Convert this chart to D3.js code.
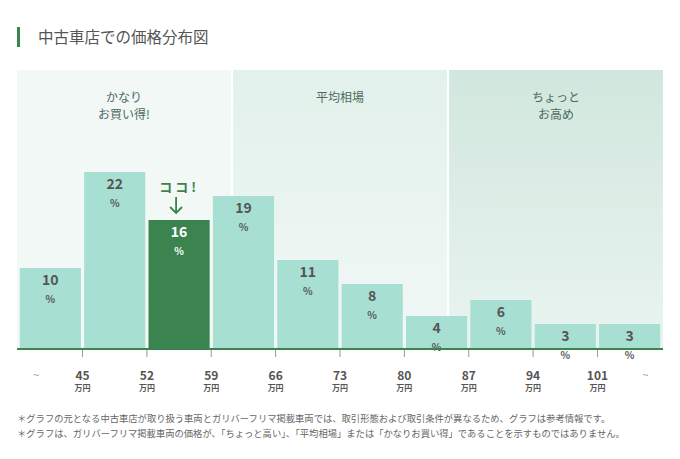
<!DOCTYPE html>
<html>
<head>
<meta charset="utf-8">
<script src="https://cdn.jsdelivr.net/npm/d3@7"></script>
<style>
  body { margin: 0; background: #fff; }
  svg { display: block; font-family: "Noto Sans CJK JP", "Noto Sans", sans-serif; }
</style>
</head>
<body>
<div id="chart"></div>
<script>
// Price distribution data
const bins = ["~45", "45-52", "52-59", "59-66", "66-73", "73-80", "80-87", "87-94", "94-101", "101~"];
const shares = [10, 22, 16, 19, 11, 8, 4, 6, 3, 3];
const highlightIndex = 2;
const tickLabels = ["45", "52", "59", "66", "73", "80", "87", "94", "101"];
const bandTitles = [["かなり", "お買い得!"], ["平均相場"], ["ちょっと", "お高め"]];
const notes = [
    "＊グラフの元となる中古車店が取り扱う車両とガリバーフリマ掲載車両では、取引形態および取引条件が異なるため、グラフは参考情報です。",
    "＊グラフは、ガリバーフリマ掲載車両の価格が、「ちょっと高い」、「平均相場」または「かなりお買い得」であることを示すものではありません。"
];

const width = 680, height = 459;
const plot = { left: 17, right: 663, top: 70, bottom: 348 };

const svg = d3.select("#chart").append("svg")
    .attr("width", width)
    .attr("height", height);

const defs = svg.append("defs");
const gradStops = [
    ["#f1f8f5", "#f3f9f6"],
    ["#e2f1eb", "#f1f8f5"],
    ["#d1e7de", "#e9f4f0"]
];
gradStops.forEach((s, i) => {
    const g = defs.append("linearGradient")
        .attr("id", "bg" + i)
        .attr("x1", 0).attr("y1", 0).attr("x2", 0).attr("y2", 1);
    g.append("stop").attr("offset", "0%").attr("stop-color", s[0]);
    g.append("stop").attr("offset", "100%").attr("stop-color", s[1]);
});

// title
svg.append("rect")
    .attr("x", 17).attr("y", 27).attr("width", 3).attr("height", 20)
    .attr("fill", "#3b844f");
svg.append("text")
    .attr("x", 38).attr("y", 43)
    .attr("font-size", 15.5)
    .attr("fill", "#555")
    .text("中古車店での価格分布図");

// background bands (thirds)
const bandX = d3.scaleBand()
    .domain(d3.range(3))
    .range([plot.left, plot.right])
    .paddingInner(0.01);

svg.append("g")
    .selectAll("rect")
    .data(d3.range(3))
    .join("rect")
    .attr("x", d => bandX(d))
    .attr("y", plot.top)
    .attr("width", bandX.bandwidth())
    .attr("height", plot.bottom - plot.top)
    .attr("fill", d => `url(#bg${d})`);

bandTitles.forEach((lines, i) => {
    const t = svg.append("text")
        .attr("x", bandX(i) + bandX.bandwidth() / 2)
        .attr("y", 102)
        .attr("text-anchor", "middle")
        .attr("font-size", 12)
        .attr("fill", "#4e6b5c");
    lines.forEach((l, j) => {
        t.append("tspan")
            .attr("x", bandX(i) + bandX.bandwidth() / 2)
            .attr("dy", j === 0 ? 0 : 17)
            .text(l);
    });
});

// scales
const x = d3.scaleBand()
    .domain(bins)
    .range([18.5, 661.5])
    .paddingInner(0.05)
    .paddingOuter(0.02);

const y = d3.scaleLinear()
    .domain([0, 22])
    .range([plot.bottom, 172]);

// bars
svg.append("g")
    .selectAll("rect")
    .data(shares)
    .join("rect")
    .attr("x", (d, i) => x(bins[i]))
    .attr("y", d => y(d))
    .attr("width", x.bandwidth())
    .attr("height", d => y(0) - y(d))
    .attr("fill", (d, i) => i === highlightIndex ? "#3b844f" : "#a8dfd3");

// value labels
const labels = svg.append("g").attr("text-anchor", "middle");
shares.forEach((d, i) => {
    const cx = x(bins[i]) + x.bandwidth() / 2;
    const col = i === highlightIndex ? "#fff" : "#555";
    labels.append("text")
        .attr("x", cx).attr("y", y(d) + 17)
        .attr("font-size", 14)
        .attr("font-weight", "bold")
        .attr("fill", col)
        .text(d);
    labels.append("text")
        .attr("x", cx).attr("y", y(d) + 35)
        .attr("font-size", 10)
        .attr("font-weight", "bold")
        .attr("fill", col)
        .text("%");
});

// "ココ!" marker
const hx = x(bins[highlightIndex]) + x.bandwidth() / 2;
svg.append("text")
    .attr("x", hx).attr("y", y(shares[highlightIndex]) - 28)
    .attr("text-anchor", "middle")
    .attr("font-size", 13)
    .attr("font-weight", "bold")
    .attr("letter-spacing", 3)
    .attr("fill", "#3b844f")
    .text("ココ!");
const ay = y(shares[highlightIndex]);
svg.append("path")
    .attr("d", `M${hx - 3},${ay - 23} V${ay - 7} M${hx - 9},${ay - 13} L${hx - 3},${ay - 7} L${hx + 3},${ay - 13}`)
    .attr("fill", "none")
    .attr("stroke", "#3b844f")
    .attr("stroke-width", 1.8);

// baseline
svg.append("line")
    .attr("x1", plot.left).attr("x2", plot.right)
    .attr("y1", plot.bottom + 1).attr("y2", plot.bottom + 1)
    .attr("stroke", "#3b844f")
    .attr("stroke-width", 2);

// ticks between bars
const gap = x.step() - x.bandwidth();
const ticks = svg.append("g");
tickLabels.forEach((t, i) => {
    const tx = x(bins[i + 1]) - gap / 2;
    ticks.append("line")
        .attr("x1", tx).attr("x2", tx)
        .attr("y1", plot.bottom + 2).attr("y2", plot.bottom + 9)
        .attr("stroke", "#999")
        .attr("stroke-width", 1);
    ticks.append("text")
        .attr("x", tx).attr("y", 380)
        .attr("text-anchor", "middle")
        .attr("font-size", 12)
        .attr("font-weight", "bold")
        .attr("fill", "#555")
        .text(t);
    ticks.append("text")
        .attr("x", tx).attr("y", 391)
        .attr("text-anchor", "middle")
        .attr("font-size", 8)
        .attr("font-weight", "bold")
        .attr("fill", "#555")
        .text("万円");
});
[0, bins.length - 1].forEach(i => {
    svg.append("text")
        .attr("x", x(bins[i]) + x.bandwidth() / 2 + (i === 0 ? -14 : 16))
        .attr("y", 379)
        .attr("text-anchor", "middle")
        .attr("font-size", 11)
        .attr("fill", "#999")
        .text("~");
});

// footnotes
svg.append("g")
    .selectAll("text")
    .data(notes)
    .join("text")
    .attr("x", 17)
    .attr("y", (d, i) => 422 + i * 15)
    .attr("font-size", 9.3)
    .attr("fill", "#666")
    .text(d => d);
</script>
</body>
</html>
